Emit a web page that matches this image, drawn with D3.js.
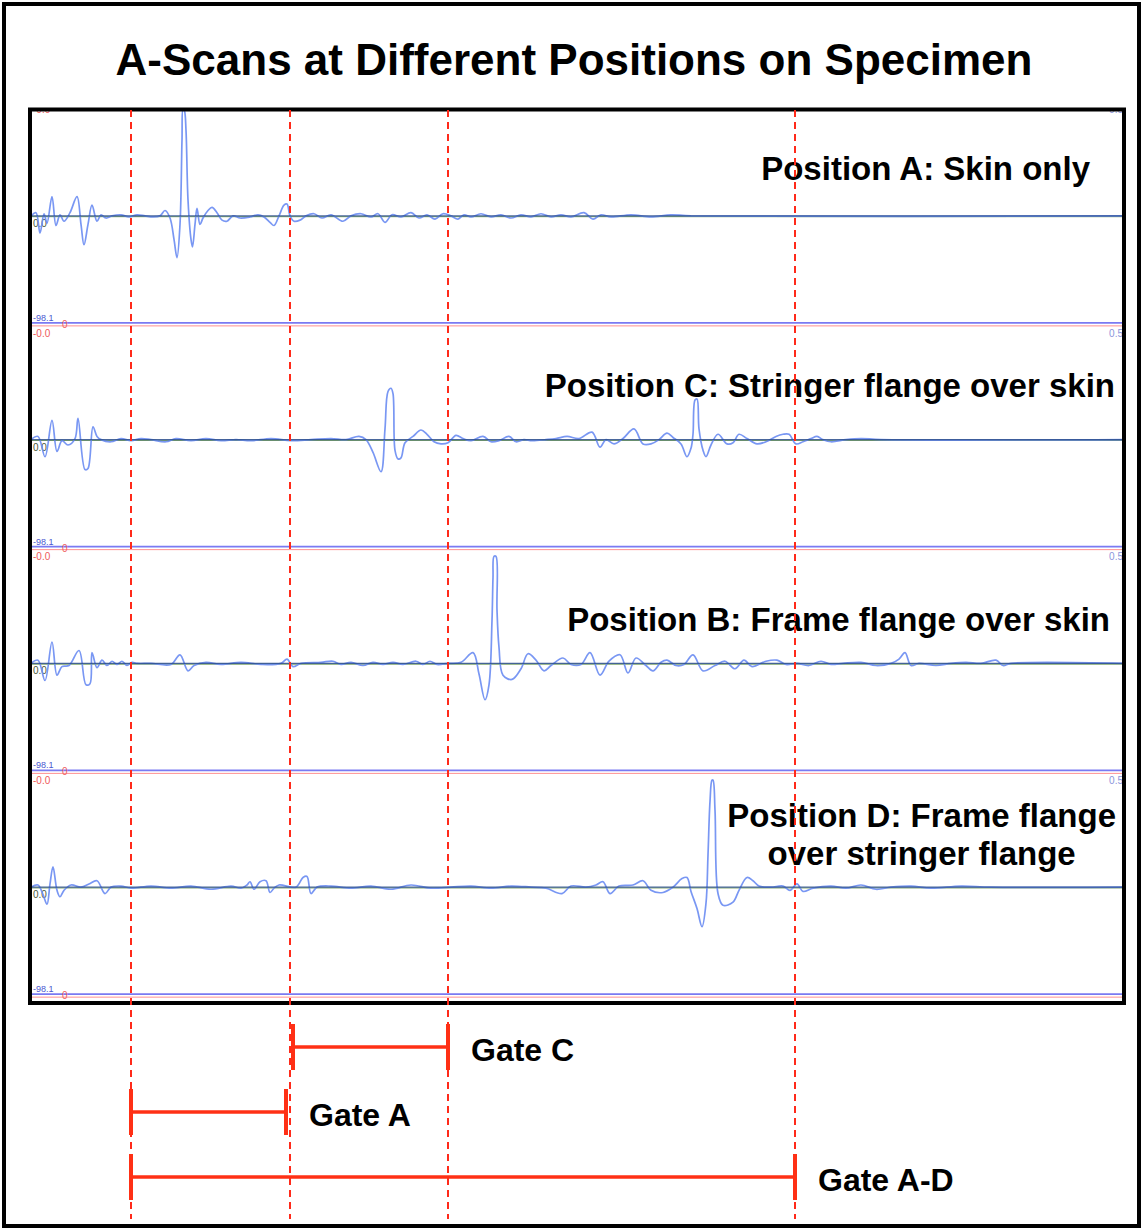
<!DOCTYPE html>
<html>
<head>
<meta charset="utf-8">
<script src="https://cdn.jsdelivr.net/npm/d3@7"></script>
<style>
body { margin: 0; background: #fff; }
text { font-family: "Liberation Sans", Arial, Helvetica, sans-serif; }
</style>
</head>
<body>
<div id="chart"></div>
<script>

// ---------------- data ----------------
var chartTitle = "A-Scans at Different Positions on Specimen";

// panels top to bottom
var positions = ["A", "C", "B", "D"];
var positionLabels = [
  ["Position A: Skin only"],
  ["Position C: Stringer flange over skin"],
  ["Position B: Frame flange over skin"],
  ["Position D: Frame flange", "over stringer flange"]
];

// A-scan samples: [time, amplitude %]
var traceA = [[0,0],[5,3],[9,-16],[13,2],[16,-7],[21,18],[25,-9],[29,1],[33,-5],[39,3],[46,18],[50,-8],[53,-27],[57,-8],[61,10],[66,-5],[70,1],[75,-2],[81,0],[90,1],[98,-1],[106,1],[114,0],[122,-1],[129,0],[134,5],[139,-2],[143,-22],[146,-39],[149,-8],[151,71],[152,100],[153.5,98],[155,80],[157,15],[160,-22],[161.5,-29],[164,-8],[166,7],[169,-8],[172,-2],[177,5],[181,8],[186,3],[191,-4],[196,-5],[202,0],[209,-2],[219,-1],[227,1],[233,-1],[239,-6],[243,-9],[248,0],[253,10],[256,11],[259,0],[263,-5],[269,-4],[275,0],[283,2],[291,-2],[300,1],[312,-5],[320,0],[330,2],[340,-1],[347,2],[354,-6],[361,1],[370,-1],[380,3],[388,-2],[396,1],[404,-3],[412,2],[420,0],[427,-3],[433,1],[440,-1],[450,2],[460,-1],[470,1],[480,-2],[490,1],[500,-1],[510,2],[520,-1],[530,1],[540,-1],[553,3],[562,-3],[570,1],[580,-1],[600,1],[620,-1],[640,1],[660,0],[1093,0]];

var traceC = [[0,0],[7,3],[14,-16],[21,18],[26,-11],[31,-1],[37,-5],[44,1],[47,20],[54,-28],[57,-27],[62,12],[66,3],[70,0],[80,-2],[90,1],[100,-1],[110,1],[120,0],[135,-2],[145,1],[160,-1],[175,1],[190,-1],[205,0],[220,-1],[240,1],[260,-1],[280,0],[300,1],[315,0],[328,3],[335,0],[342,-12],[350,-30],[354,10],[357,45],[360,48],[362,43],[364,-10],[367,-18],[370,-17],[374,-3],[382,3],[390,9],[396,5],[403,-2],[410,-4],[417,-3],[425,4],[432,1],[440,-1],[452,3],[460,-2],[468,-1],[478,3],[485,-2],[493,0],[501,-1],[515,0],[525,1],[536,3],[548,1],[561,7],[569,-7],[575,0],[583,-4],[592,1],[603,10],[612,-4],[620,-4],[628,0],[636,6],[642,2],[650,-4],[656,-16],[660,-8],[662,5],[664,37],[666,38],[668,10],[672,-10],[675,-16],[680,-5],[687,5],[696,-4],[702,-3],[708,5],[716,1],[726,-4],[735,-2],[745,3],[752,5],[758,5],[765,-4],[772,-2],[780,1],[786,3],[792,0],[800,-2],[815,0],[830,1],[850,0],[1093,0]];

var traceB = [[0,0],[7,3],[14,-16],[21,20],[26,-11],[31,-3],[38,-2],[48,12],[55,-20],[59,-19],[61,10],[66,-4],[71,3],[76,-2],[81,2],[86,-1],[91,2],[96,-2],[101,1],[106,0],[120,0],[140,-1],[149,8],[157,-7],[163,-2],[175,1],[190,-1],[210,1],[230,-1],[250,0],[256,4],[262,-3],[270,0],[290,1],[302,2],[310,-1],[320,1],[332,-2],[342,1],[352,-1],[362,1],[372,-1],[385,2],[392,-1],[399,2],[406,-1],[417,0],[430,1],[442,10],[448,-10],[454,-34],[458,-20],[461,40],[462,80],[463,100],[465,100],[466,50],[468,15],[472,-11],[481,-15],[490,-5],[497,9],[505,3],[513,-7],[520,-2],[532,5],[540,-1],[550,-1],[559,10],[569,-11],[578,2],[589,8],[597,-9],[605,5],[615,-2],[622,-7],[630,1],[636,3],[645,-2],[653,-1],[662,8],[672,-7],[684,-2],[694,2],[704,-5],[713,3],[721,-3],[735,2],[746,3],[755,-1],[766,0],[778,-2],[790,2],[800,-1],[812,0],[830,1],[845,-2],[860,0],[868,4],[874,10],[880,-2],[888,0],[905,-2],[920,0],[935,1],[950,0],[965,3],[972,-2],[980,0],[1093,0]];

var traceD = [[0,0],[7,2],[12,-7],[16,-16],[19,3],[22,19],[26,-3],[29,-9],[33,-3],[40,2],[50,0],[58,3],[66,6],[74,-6],[80,0],[90,1],[100,-1],[120,1],[140,-1],[160,1],[180,-2],[200,1],[210,-1],[216,2],[219,5],[223,-2],[229,5],[235,6],[239,-5],[243,-1],[248,2],[265,0],[272,9],[276,10],[280,-6],[286,0],[300,1],[320,-1],[340,1],[360,-2],[380,2],[400,-1],[420,0],[440,1],[460,-1],[480,1],[500,0],[515,-1],[531,-6],[540,1],[555,0],[565,2],[572,5],[579,-6],[588,1],[602,2],[612,6],[620,-3],[632,-5],[642,0],[651,8],[656,9],[660,-4],[666,-20],[671,-37],[675,-15],[677,30],[679,80],[681,100],[682,100],[684,72],[687,-6],[692,-17],[702,-14],[708,-3],[716,9],[722,6],[728,1],[740,0],[752,1],[759,-3],[766,3],[772,-4],[782,-1],[800,1],[815,-1],[830,2],[845,-2],[860,0],[880,1],[900,-1],[930,1],[960,0],[1093,0]];

var traces = [traceA, traceC, traceB, traceD];

// gate boundaries (time) and gates
var gateLines = [100, 259, 417, 764];
var gateNames = ["Gate C", "Gate A", "Gate A-D"];
var gateStart = [262, 100, 100];
var gateEnd = [417, 255, 764];

// ---------------- layout ----------------
var W = 1143, H = 1230;
var labelX = [1090, 1115, 1110, 1116];     // right end of position labels
var labelDy = [-36, -43, -32, -60];        // baseline of first line vs. zero line

var svg = d3.select("#chart").append("svg")
  .attr("width", W)
  .attr("height", H);

var x = d3.scaleLinear().domain([0, 1093]).range([31, 1124]);
var panelY = d3.scaleBand().domain(positions).range([104, 999]);
var amp = d3.scaleLinear().domain([-100, 100]).range([107, -107]);
var gateY = d3.scalePoint().domain(gateNames).range([1047, 1177]);

//outer frame
svg.append("rect")
  .attr("x", 4).attr("y", 4)
  .attr("width", W - 8).attr("height", H - 8)
  .attr("fill", "#fff")
  .attr("stroke", "#000")
  .attr("stroke-width", 4);

//title
svg.append("text")
  .attr("x", 574)
  .attr("y", 75)
  .attr("text-anchor", "middle")
  .style("font-size", "44px")
  .style("font-weight", "bold")
  .text(chartTitle);

svg.append("clipPath").attr("id", "plotclip")
  .append("rect")
  .attr("x", 31).attr("y", 109)
  .attr("width", 1094).attr("height", 893);

var plot = svg.append("g").attr("clip-path", "url(#plotclip)");

var line = d3.line()
  .x(function(d) { return x(d[0]); })
  .y(function(d) { return amp(d[1]); })
  .curve(d3.curveCatmullRom.alpha(0.5));

//one group per panel, origin on the zero line
positions.forEach(function(p, i) {
  var cy = panelY(p) + panelY.bandwidth() / 2;
  var g = plot.append("g").attr("transform", "translate(0," + cy + ")");

  //bottom frame lines
  g.append("line")
    .attr("x1", x(0)).attr("x2", x(1093))
    .attr("y1", amp(-100) + 3).attr("y2", amp(-100) + 3)
    .attr("stroke", "#ff9090").attr("stroke-width", 1);
  g.append("line")
    .attr("x1", x(0)).attr("x2", x(1093))
    .attr("y1", amp(-100)).attr("y2", amp(-100))
    .attr("stroke", "#7a7af2").attr("stroke-width", 1.6);

  //zero line (green under, trace, then navy on top)
  g.append("line")
    .attr("x1", x(0)).attr("x2", x(1093))
    .attr("y1", amp(0) + 0.8).attr("y2", amp(0) + 0.8)
    .attr("stroke", "#6f9a5a").attr("stroke-width", 1);

  //small instrument labels
  g.append("text").attr("x", 33).attr("y", amp(100) + 4)
    .attr("fill", "#f05a5a").style("font-size", "10px").text("-0.0");
  g.append("text").attr("x", 1123).attr("y", amp(100) + 4)
    .attr("text-anchor", "end")
    .attr("fill", "#8c96dc").style("font-size", "10px").text("0.5");
  g.append("text").attr("x", 33).attr("y", 11)
    .attr("fill", "#4d5a3a").style("font-size", "10px").text("0.0");
  g.append("text").attr("x", 33).attr("y", amp(-100) - 2)
    .attr("fill", "#4a58d0").style("font-size", "9px").text("-98.1");
  g.append("text").attr("x", 62).attr("y", amp(-100) + 5)
    .attr("fill", "#f06060").style("font-size", "10px").text("0");

  //the A-scan
  g.append("path")
    .datum(traces[i])
    .attr("fill", "none")
    .attr("stroke", "#6a8cf2")
    .attr("stroke-opacity", 0.9)
    .attr("stroke-width", 1.7)
    .attr("stroke-linejoin", "round")
    .attr("d", line);

  g.append("line")
    .attr("x1", x(0)).attr("x2", x(1093))
    .attr("y1", amp(0)).attr("y2", amp(0))
    .attr("stroke", "#2c4d8c").attr("stroke-width", 1.2)
    .attr("stroke-opacity", 0.85);

  //position label
  var lab = svg.append("text")
    .attr("text-anchor", "middle")
    .style("font-size", "33px")
    .style("font-weight", "bold")
    .attr("fill", "#000");
  var lines = positionLabels[i];
  var tmp = svg.append("text").style("font-size", "33px").style("font-weight", "bold").text(lines[0]);
  var w0 = tmp.node().getComputedTextLength();
  tmp.remove();
  var cx = labelX[i] - w0 / 2;
  lines.forEach(function(s, k) {
    lab.append("tspan")
      .attr("x", cx)
      .attr("y", cy + labelDy[i] + k * 38)
      .text(s);
  });
});

//right edge of the scope display
svg.append("line")
  .attr("x1", x(1093)).attr("x2", x(1093))
  .attr("y1", 109).attr("y2", 1002)
  .attr("stroke", "#7a7af2").attr("stroke-width", 1.5);

//inner frame
svg.append("rect")
  .attr("x", 30).attr("y", 109.5)
  .attr("width", 1094).attr("height", 893.5)
  .attr("fill", "none")
  .attr("stroke", "#000")
  .attr("stroke-width", 4);

//dashed gate boundaries
svg.selectAll(".gateline")
  .data(gateLines)
  .enter()
  .append("line")
  .attr("class", "gateline")
  .attr("x1", function(d) { return x(d); })
  .attr("x2", function(d) { return x(d); })
  .attr("y1", 110)
  .attr("y2", 1219)
  .attr("stroke", "#ff2a1a")
  .attr("stroke-width", 2)
  .attr("stroke-dasharray", "7,5");

//gate brackets
gateNames.forEach(function(name, i) {
  var gy = gateY(name);
  var x0 = x(gateStart[i]), x1 = x(gateEnd[i]);
  var gg = svg.append("g");
  gg.append("line")
    .attr("x1", x0).attr("x2", x1)
    .attr("y1", gy).attr("y2", gy)
    .attr("stroke", "#ff3015").attr("stroke-width", 3.5);
  [x0, x1].forEach(function(px) {
    gg.append("line")
      .attr("x1", px).attr("x2", px)
      .attr("y1", gy - 23).attr("y2", gy + 23)
      .attr("stroke", "#ff3015").attr("stroke-width", 4);
  });
  gg.append("text")
    .attr("x", x1 + 23)
    .attr("y", gy + 14)
    .style("font-size", "32px")
    .style("font-weight", "bold")
    .text(name);
});

</script>
</body>
</html>
